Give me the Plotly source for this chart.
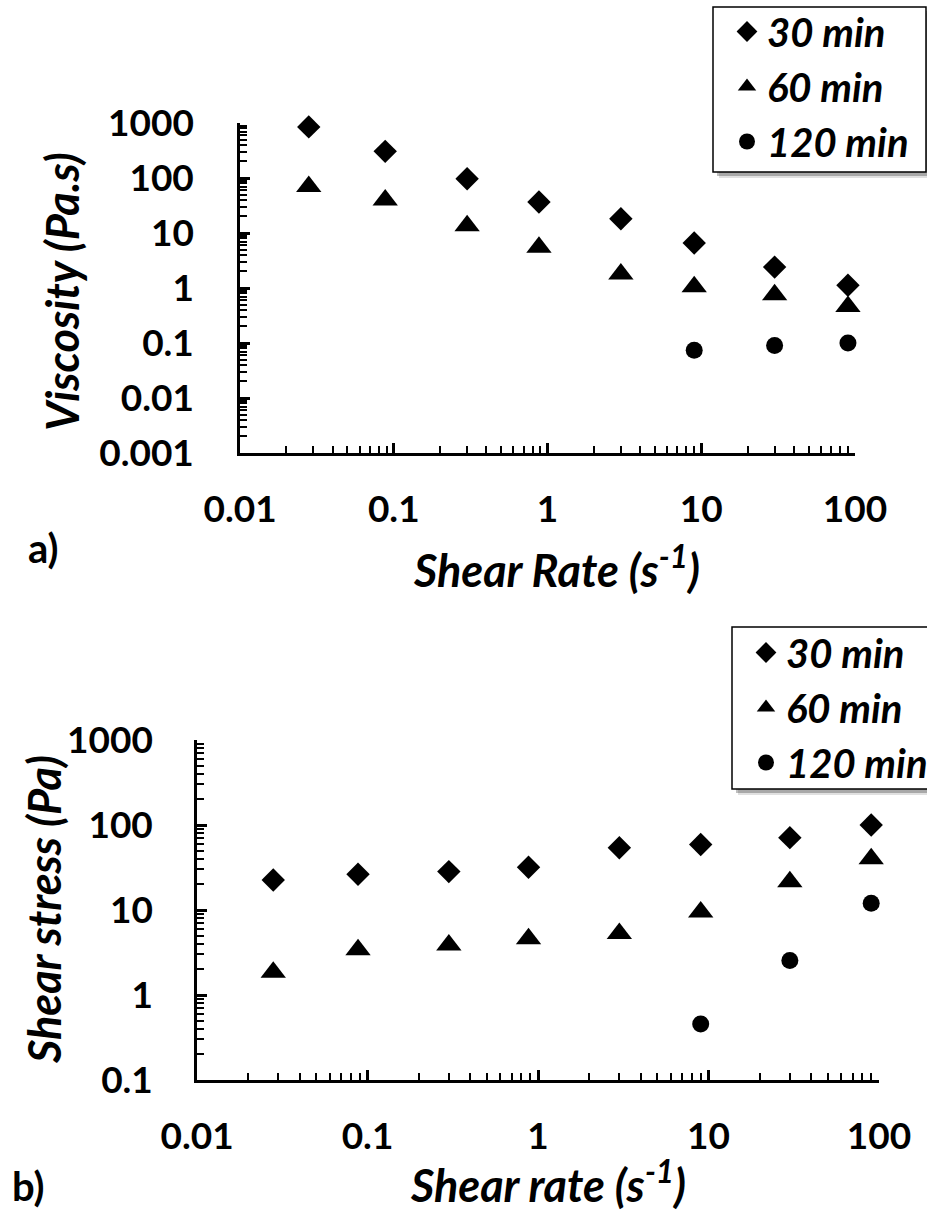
import plotly.graph_objects as go

# ---------------- data ----------------
shear_rate = [0.028, 0.088, 0.3, 0.88, 3, 9, 30, 90]
shear_rate_120 = [9, 30, 90]

visc_30 = [850, 305, 97, 36.6, 18.2, 6.6, 2.4, 1.12]
visc_60 = [70, 40, 13.5, 5.5, 1.8, 1.05, 0.75, 0.46]
visc_120 = [0.074, 0.09, 0.10]

stress_30 = [22.5, 26.3, 28.3, 31.8, 54, 59, 71, 100]
stress_60 = [1.85, 3.4, 3.87, 4.6, 5.3, 9.5, 21.5, 40]
stress_120 = [0.456, 2.54, 12]

series_names = ["30 min", "60 min", "120 min"]
x_tick_vals = [0.01, 0.1, 1, 10, 100]
x_tick_text = ["0.01", "0.1", "1", "10", "100"]
visc_tick_vals = [0.001, 0.01, 0.1, 1, 10, 100, 1000]
visc_tick_text = ["0.001", "0.01", "0.1", "1", "10", "100", "1000"]
stress_tick_vals = [0.1, 1, 10, 100, 1000]
stress_tick_text = ["0.1", "1", "10", "100", "1000"]

# ---------------- layout helpers ----------------
W, H = 927, 1213
def px(x):
    return x / W
def py(y):
    return 1 - y / H

FONT = "Lato"
symbols = ["diamond", "triangle-up", "circle"]
sizes = [18, 22, 17]

def minor_vals(lo, hi):
    vals = []
    for e in range(lo, hi):
        for m in range(2, 10):
            vals.append(m * 10 ** e)
    return vals

fig = go.Figure()

top_sets = [(shear_rate, visc_30), (shear_rate, visc_60), (shear_rate_120, visc_120)]
bot_sets = [(shear_rate, stress_30), (shear_rate, stress_60), (shear_rate_120, stress_120)]

for i, (xs, ys) in enumerate(top_sets):
    fig.add_trace(go.Scatter(
        x=xs, y=ys, mode="markers", name=series_names[i], cliponaxis=False,
        marker=dict(symbol=symbols[i], size=sizes[i], color="black"),
        xaxis="x", yaxis="y", legend="legend", legendgroup="a" + str(i)))
for i, (xs, ys) in enumerate(bot_sets):
    fig.add_trace(go.Scatter(
        x=xs, y=ys, mode="markers", name=series_names[i], cliponaxis=False,
        marker=dict(symbol=symbols[i], size=sizes[i], color="black"),
        xaxis="x2", yaxis="y2", legend="legend2", legendgroup="b" + str(i)))

tickfont = dict(family=FONT, size=37, color="black", weight="bold")
common = dict(type="log", showline=True, linecolor="black", linewidth=2.5,
              showgrid=False, zeroline=False, ticks="inside", ticklen=10,
              tickwidth=2.5, tickcolor="black", tickfont=tickfont,
              tickmode="array", mirror=False)
minor_style = dict(ticks="inside", ticklen=7, tickwidth=2, tickcolor="black", tickmode="array")

legend_font = dict(family=FONT, size=40, color="black", weight="bold", style="italic")
legend_common = dict(xanchor="left", yanchor="top", bgcolor="rgba(0,0,0,0)",
                     borderwidth=0, font=legend_font, tracegroupgap=0,
                     traceorder="grouped", itemsizing="trace", indentation=12)

fig.update_layout(
    width=W, height=H,
    margin=dict(l=0, r=0, t=0, b=0, autoexpand=False),
    paper_bgcolor="white", plot_bgcolor="white",
    showlegend=True,
    xaxis=dict(common, domain=[px(240), px(855)], range=[-2, 2], anchor="y",
               tickvals=x_tick_vals, ticktext=x_tick_text, ticklabelstandoff=22,
               minor=dict(minor_style, tickvals=minor_vals(-2, 2))),
    yaxis=dict(common, domain=[py(453), py(123)], range=[-3, 3], anchor="x",
               tickvals=visc_tick_vals, ticktext=visc_tick_text, ticklabelstandoff=36,
               minor=dict(minor_style, tickvals=minor_vals(-3, 3))),
    xaxis2=dict(common, domain=[px(197), px(879)], range=[-2, 2], anchor="y2",
                tickvals=x_tick_vals, ticktext=x_tick_text, ticklabelstandoff=22,
                minor=dict(minor_style, tickvals=minor_vals(-2, 2))),
    yaxis2=dict(common, domain=[py(1080), py(740)], range=[-1, 3], anchor="x2",
                tickvals=stress_tick_vals, ticktext=stress_tick_text, ticklabelstandoff=34,
                minor=dict(minor_style, tickvals=minor_vals(-1, 3))),
    legend=dict(legend_common, x=px(715), y=py(-1)),
    legend2=dict(legend_common, x=px(734), y=py(620)),
)

# legend frames with a soft drop shadow (drawn beneath the legend entries)
for (x0, y0, x1, y1) in [(713, 7, 926, 172), (732, 627, 960, 789)]:
    for off, alpha in [(6, 0.12), (4, 0.25)]:
        fig.add_shape(type="rect", xref="paper", yref="paper",
                      x0=px(x0 + off), x1=px(x1 + off), y0=py(y1 + off), y1=py(y0 + off),
                      fillcolor="rgba(0,0,0,%s)" % alpha, line=dict(width=0), layer="above")
    fig.add_shape(type="rect", xref="paper", yref="paper",
                  x0=px(x0), x1=px(x1), y0=py(y1), y1=py(y0),
                  fillcolor="white", line=dict(color="black", width=1.5), layer="above")

titlefont = dict(family=FONT, size=45, color="black", weight="bold", style="italic")
labelfont = dict(family=FONT, size=40, color="black", weight="bold")
ann = dict(xref="paper", yref="paper", showarrow=False, xanchor="center", yanchor="middle")
fig.add_annotation(ann, text="Viscosity (Pa.s)", x=px(62), y=py(292), textangle=-90, font=titlefont)
fig.add_annotation(ann, text="Shear Rate (s<sup>-1</sup>)", x=px(556), y=py(567), font=titlefont)
fig.add_annotation(ann, text="a)", x=px(43), y=py(548), font=labelfont)
fig.add_annotation(ann, text="Shear stress (Pa)", x=px(44), y=py(910), textangle=-90, font=titlefont)
fig.add_annotation(ann, text="Shear rate (s<sup>-1</sup>)", x=px(548), y=py(1182), font=titlefont)
fig.add_annotation(ann, text="b)", x=px(28), y=py(1186), font=labelfont)

fig.write_html("out.html", post_script="document.body.style.margin='0px';",
               config={"displayModeBar": False})
